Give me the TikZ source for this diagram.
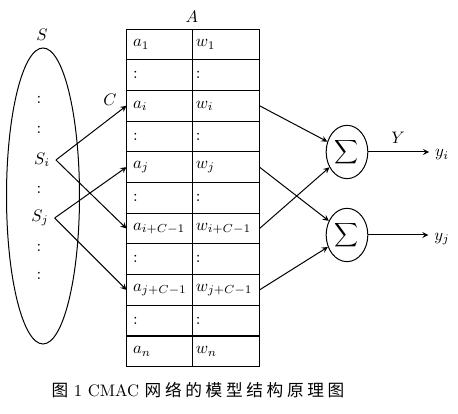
\documentclass[tikz,border=0pt]{standalone}
\usepackage{fontspec}
\newfontfamily\cjk[LetterSpace=22]{Noto Sans CJK SC}
\usetikzlibrary{shapes.geometric}
\tikzset{
  cell/.style={draw,minimum height=18.4pt,inner xsep=4pt,text width=31.6pt,align=left,outer sep=0pt},
  wcell/.style={cell,inner xsep=2pt,text width=36.2pt},
  sumnode/.style={draw,ellipse,minimum width=25pt,minimum height=32pt,inner sep=0pt}
}
\begin{document}
\begin{tikzpicture}[x=0.6pt,y=-0.6pt,>=stealth,line width=0.6pt]
\useasboundingbox (0,0) rectangle (458,414);
% input space S
\draw (43,196) ellipse (36.5 and 148);
\node (S) at (42,35) {$S$};
\node (Si) at (42,160) {$S_i$};
\node (Sj) at (40,218) {$S_j$};
\foreach \y [count=\k] in {100,130,190,248,276}
  \node (dot\k) at (39,\y) {$\mathbf{:}$};
% association table A
\node (A) at (192,17) {$A$};
\foreach \la/\lw [count=\r] in {a_1/w_1, \mathbf{:}/\mathbf{:}, a_i/w_i, \mathbf{:}/\mathbf{:}, a_j/w_j, \mathbf{:}/\mathbf{:},
    a_{i+C-1}/w_{i+C-1}, \mathbf{:}/\mathbf{:}, a_{j+C-1}/w_{j+C-1}, \mathbf{:}/\mathbf{:}, a_n/w_n} {
  \node[cell] (a\r) at (159.5,{29+30.7*(\r-0.5)}) {$\la$};
  \node[wcell] (w\r) at (226,{29+30.7*(\r-0.5)}) {$\lw$};
}
\node (C) at (110,100) {$C$};
\draw[->] (Si.east) -- (a3.west);
\draw[->] (Si.east) -- (a7.west);
\draw[->] (Sj.east) -- (a5.west);
\draw[->] (Sj.east) -- (a9.west);
% summing units
\node[sumnode] (s1) at (347,152) {\large$\displaystyle\sum$};
\node[sumnode] (s2) at (347,235) {\large$\displaystyle\sum$};
\draw[->] (w3.east) -- (s1);
\draw[->] (w7.east) -- (s1);
\draw[->] (w5.east) -- (s2);
\draw[->] (w9.east) -- (s2);
\node (Y) at (398,138) {$Y$};
\node (yi) at (442,155) {$y_i$};
\node (yj) at (442,239) {$y_j$};
\draw[->] (s1.east) -- (s1.east -| yi.west);
\draw[->] (s2.east) -- (s2.east -| yj.west);
% caption
\node (cap) at (198,390) {\fontsize{10}{12}\selectfont{\cjk 图} 1 CMAC {\cjk 网络的模型结构原理图}};
\end{tikzpicture}
\end{document}
